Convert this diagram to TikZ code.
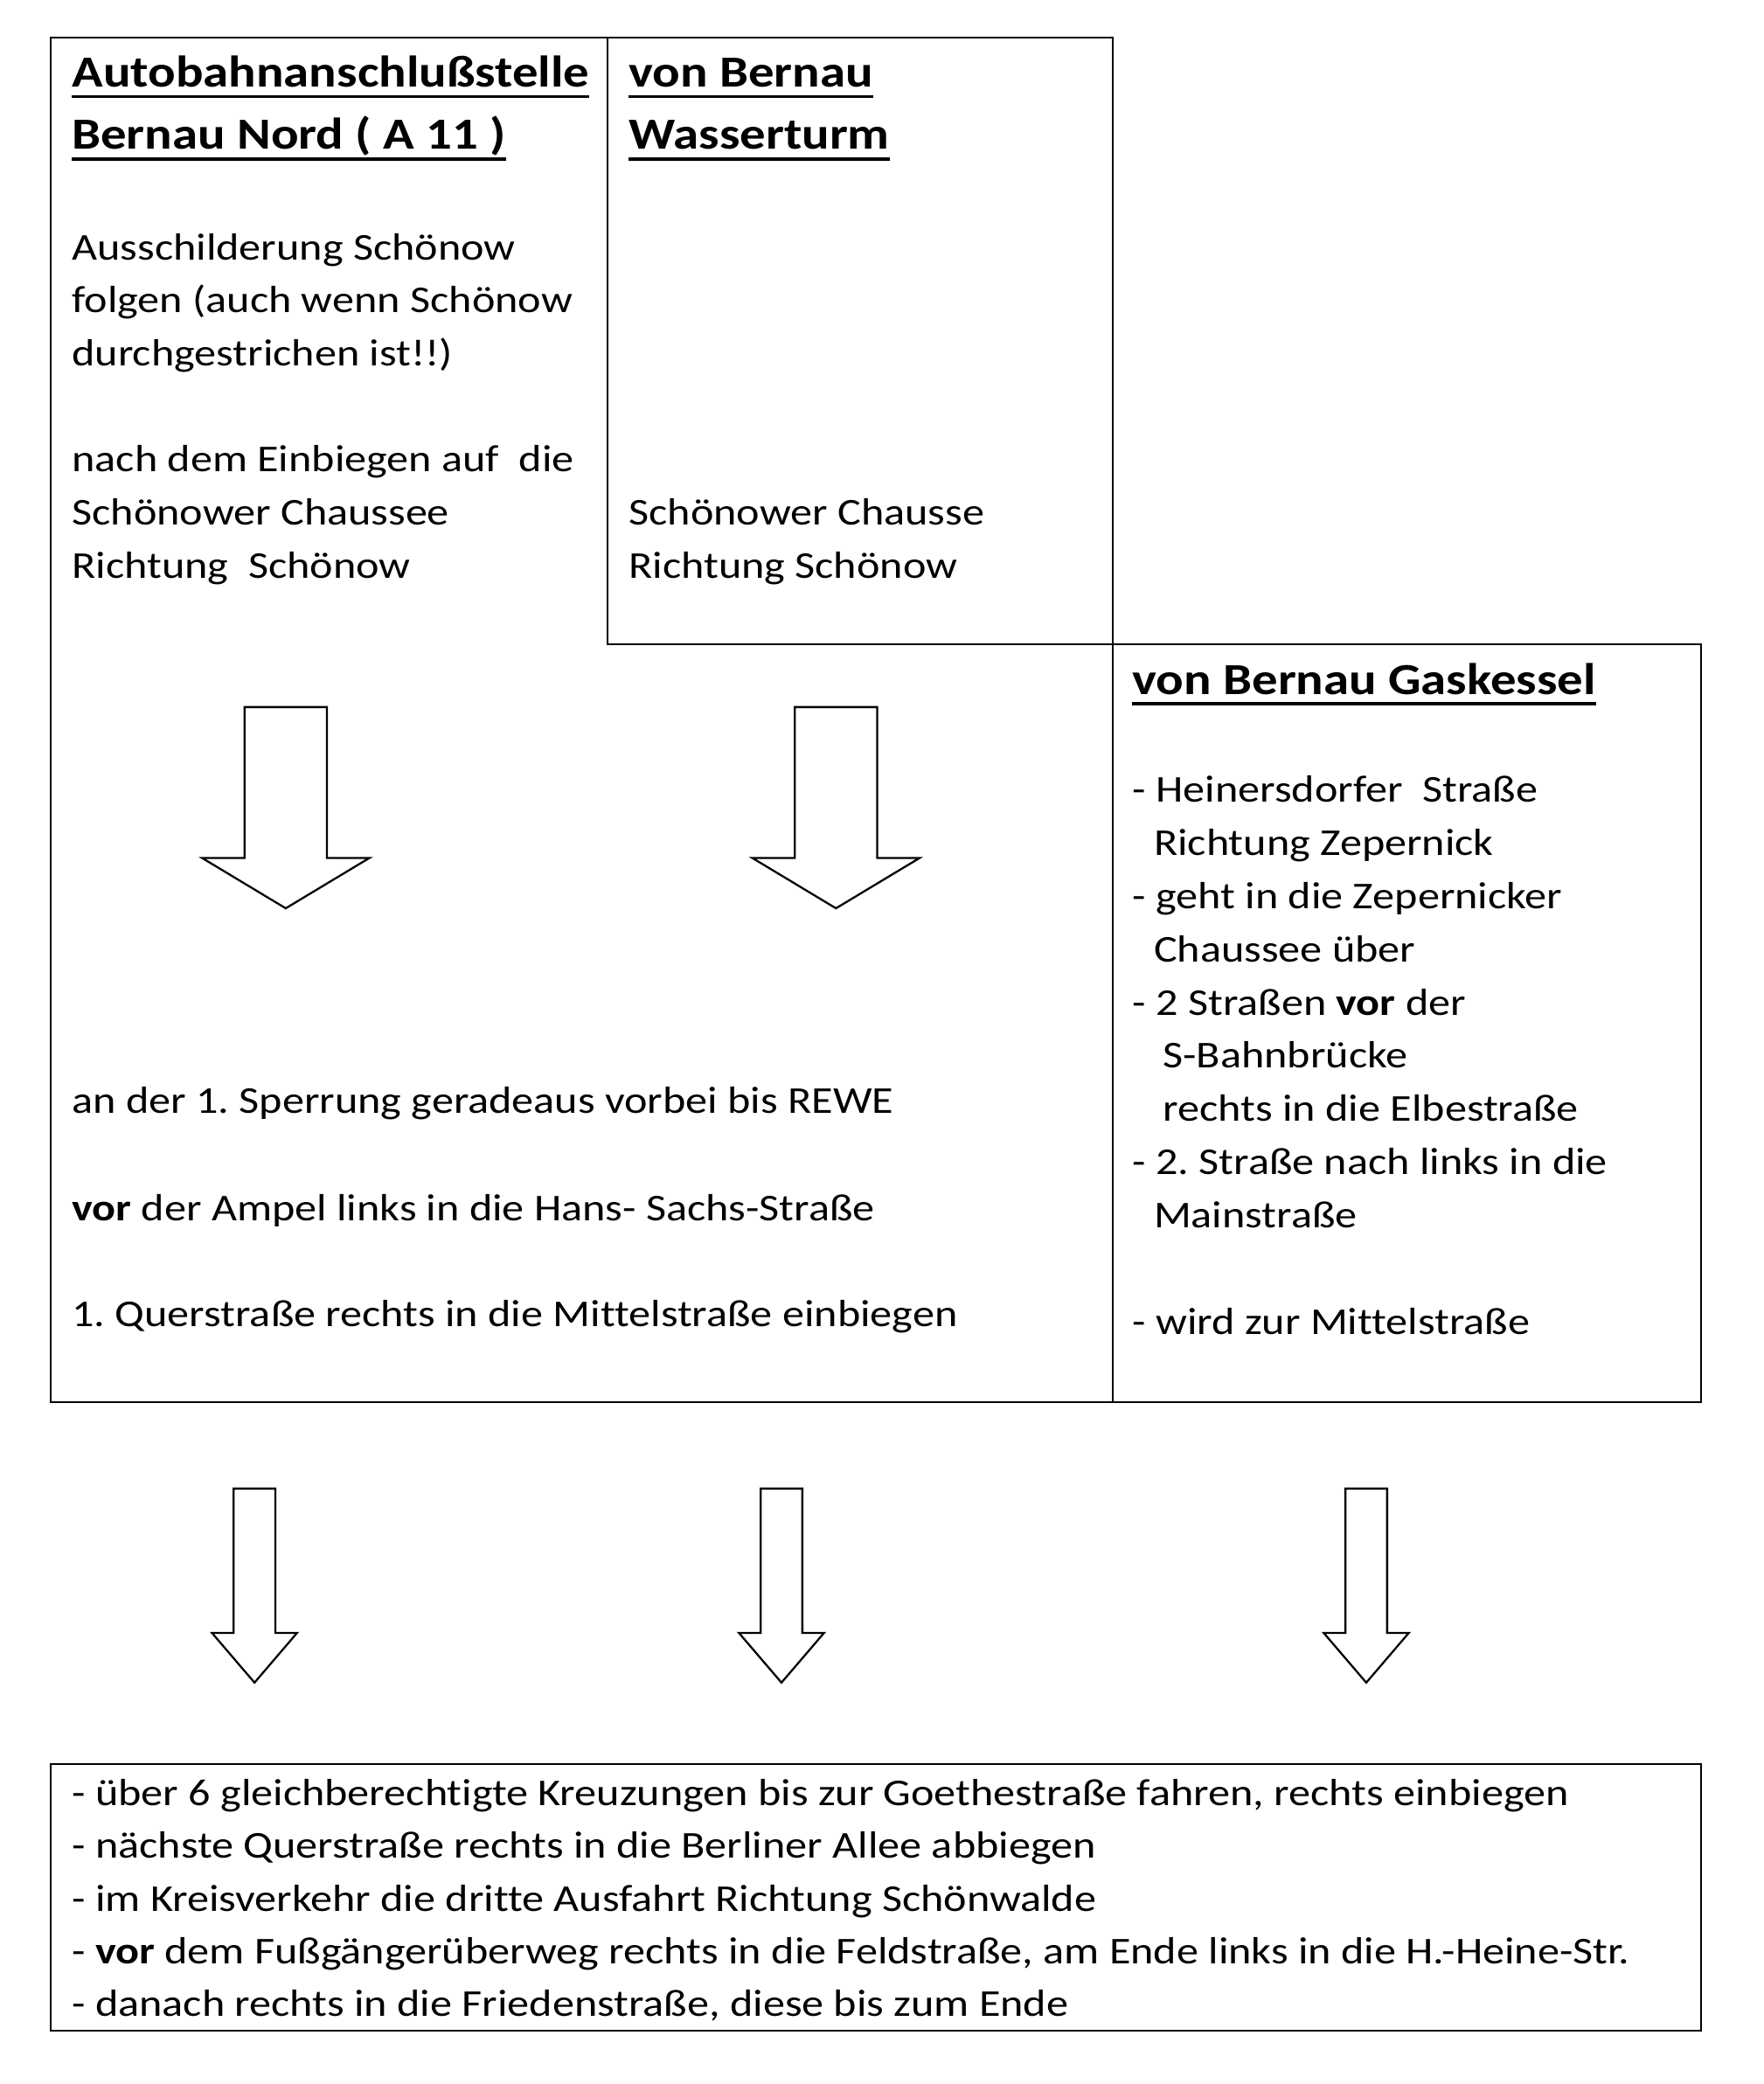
\documentclass[tikz,border=0pt]{standalone}
\usepackage{fontspec}
\setmainfont{Carlito}[FakeStretch=1.158,Ligatures=NoCommon]
\frenchspacing
\begin{document}
\begin{tikzpicture}[x=1pt,y=-1pt,
  frame/.style={draw=black,line width=1.4pt},
  blockarrow/.style={draw=black,line width=1.5pt,fill=white,line join=miter},
  body/.style={anchor=base west,inner sep=0pt,font=\fontsize{28.5}{40}\selectfont},
  head/.style={anchor=base west,inner sep=0pt,font=\fontsize{33.4}{47}\selectfont\bfseries},
  ul/.style={draw=black,line width=2.2pt}]
\useasboundingbox[fill=white] (0,0) rectangle (1327,1568);
% frames
\draw[frame] (38,28) rectangle (837,1055);
\draw[frame] (457,28) rectangle (837,485);
\draw[frame] (837,485) rectangle (1280,1055);
\draw[frame] (38,1327) rectangle (1280,1528);
% block arrows, first row
\foreach \c in {215,629}{
  \draw[blockarrow] (\c-31,532) -- (\c+31,532) -- (\c+31,645.5) -- (\c+63,645.5)
    -- (\c,683.4) -- (\c-63,645.5) -- (\c-31,645.5) -- cycle;
}
% block arrows, second row
\foreach \c in {191.5,588,1028}{
  \draw[blockarrow] (\c-15.7,1120) -- (\c+15.7,1120) -- (\c+15.7,1228.6) -- (\c+32,1228.6)
    -- (\c,1266) -- (\c-32,1228.6) -- (\c-15.7,1228.6) -- cycle;
}
% left column
\node[head] (h1) at (54,65.4) {Autobahnanschlußstelle};
\node[head] (h2) at (54,112.4) {Bernau Nord ( A 11 )};
\draw[ul] ([yshift=-7.4pt]h1.base west) -- ([yshift=-7.4pt]h1.base east);
\draw[ul] ([yshift=-7.4pt]h2.base west) -- ([yshift=-7.4pt]h2.base east);
\node[body] (l1) at (54,195.4) {Ausschilderung Schönow};
\node[body] (l2) at (54,235.2) {folgen (auch wenn Schönow};
\node[body] (l3) at (54,275) {durchgestrichen ist!!)};
\node[body] (l4) at (54,355) {nach dem Einbiegen auf~ die};
\node[body] (l5) at (54,395) {Schönower Chaussee};
\node[body] (l6) at (54,435) {Richtung~ Schönow};
\node[body] (l7) at (54,837.8) {an der 1. Sperrung geradeaus vorbei bis REWE};
\node[body] (l8) at (54,918.4) {\textbf{vor} der Ampel links in die Hans- Sachs-Straße};
\node[body] (l9) at (54,998.4) {1. Querstraße rechts in die Mittelstraße einbiegen};
% Wasserturm
\node[head] (w1) at (473,65.4) {von Bernau};
\node[head] (w2) at (473,112.4) {Wasserturm};
\draw[ul] ([yshift=-7.4pt]w1.base west) -- ([yshift=-7.4pt]w1.base east);
\draw[ul] ([yshift=-7.4pt]w2.base west) -- ([yshift=-7.4pt]w2.base east);
\node[body] (w3) at (473,395) {Schönower Chausse};
\node[body] (w4) at (473,435) {Richtung Schönow};
% Gaskessel
\node[head] (g0) at (852,522.5) {von Bernau Gaskessel};
\draw[ul] ([yshift=-7pt]g0.base west) -- ([yshift=-7pt]g0.base east);
\node[body] (g1) at (852,603.7) {- Heinersdorfer~ Straße};
\node[body] (g2) at (868,643.7) {Richtung Zepernick};
\node[body] (g3) at (852,683.7) {- geht in die Zepernicker};
\node[body] (g4) at (868,723.7) {Chaussee über};
\node[body] (g5) at (852,763.7) {- 2 Straßen \textbf{vor} der};
\node[body] (g6) at (875,803.7) {S-Bahnbrücke};
\node[body] (g7) at (875,843.7) {rechts in die Elbestraße};
\node[body] (g8) at (852,883.7) {- 2. Straße nach links in die};
\node[body] (g9) at (868,923.7) {Mainstraße};
\node[body] (g10) at (852,1003.7) {- wird zur Mittelstraße};
% bottom box
\node[body] (b1) at (54,1358.5) {- über 6 gleichberechtigte Kreuzungen bis zur Goethestraße fahren, rechts einbiegen};
\node[body] (b2) at (54,1398) {- nächste Querstraße rechts in die Berliner Allee abbiegen};
\node[body] (b3) at (54,1438) {- im Kreisverkehr die dritte Ausfahrt Richtung Schönwalde};
\node[body] (b4) at (54,1477.5) {- \textbf{vor} dem Fußgängerüberweg rechts in die Feldstraße, am Ende links in die H.-Heine-Str.};
\node[body] (b5) at (54,1517) {- danach rechts in die Friedenstraße, diese bis zum Ende};
\end{tikzpicture}
\end{document}
